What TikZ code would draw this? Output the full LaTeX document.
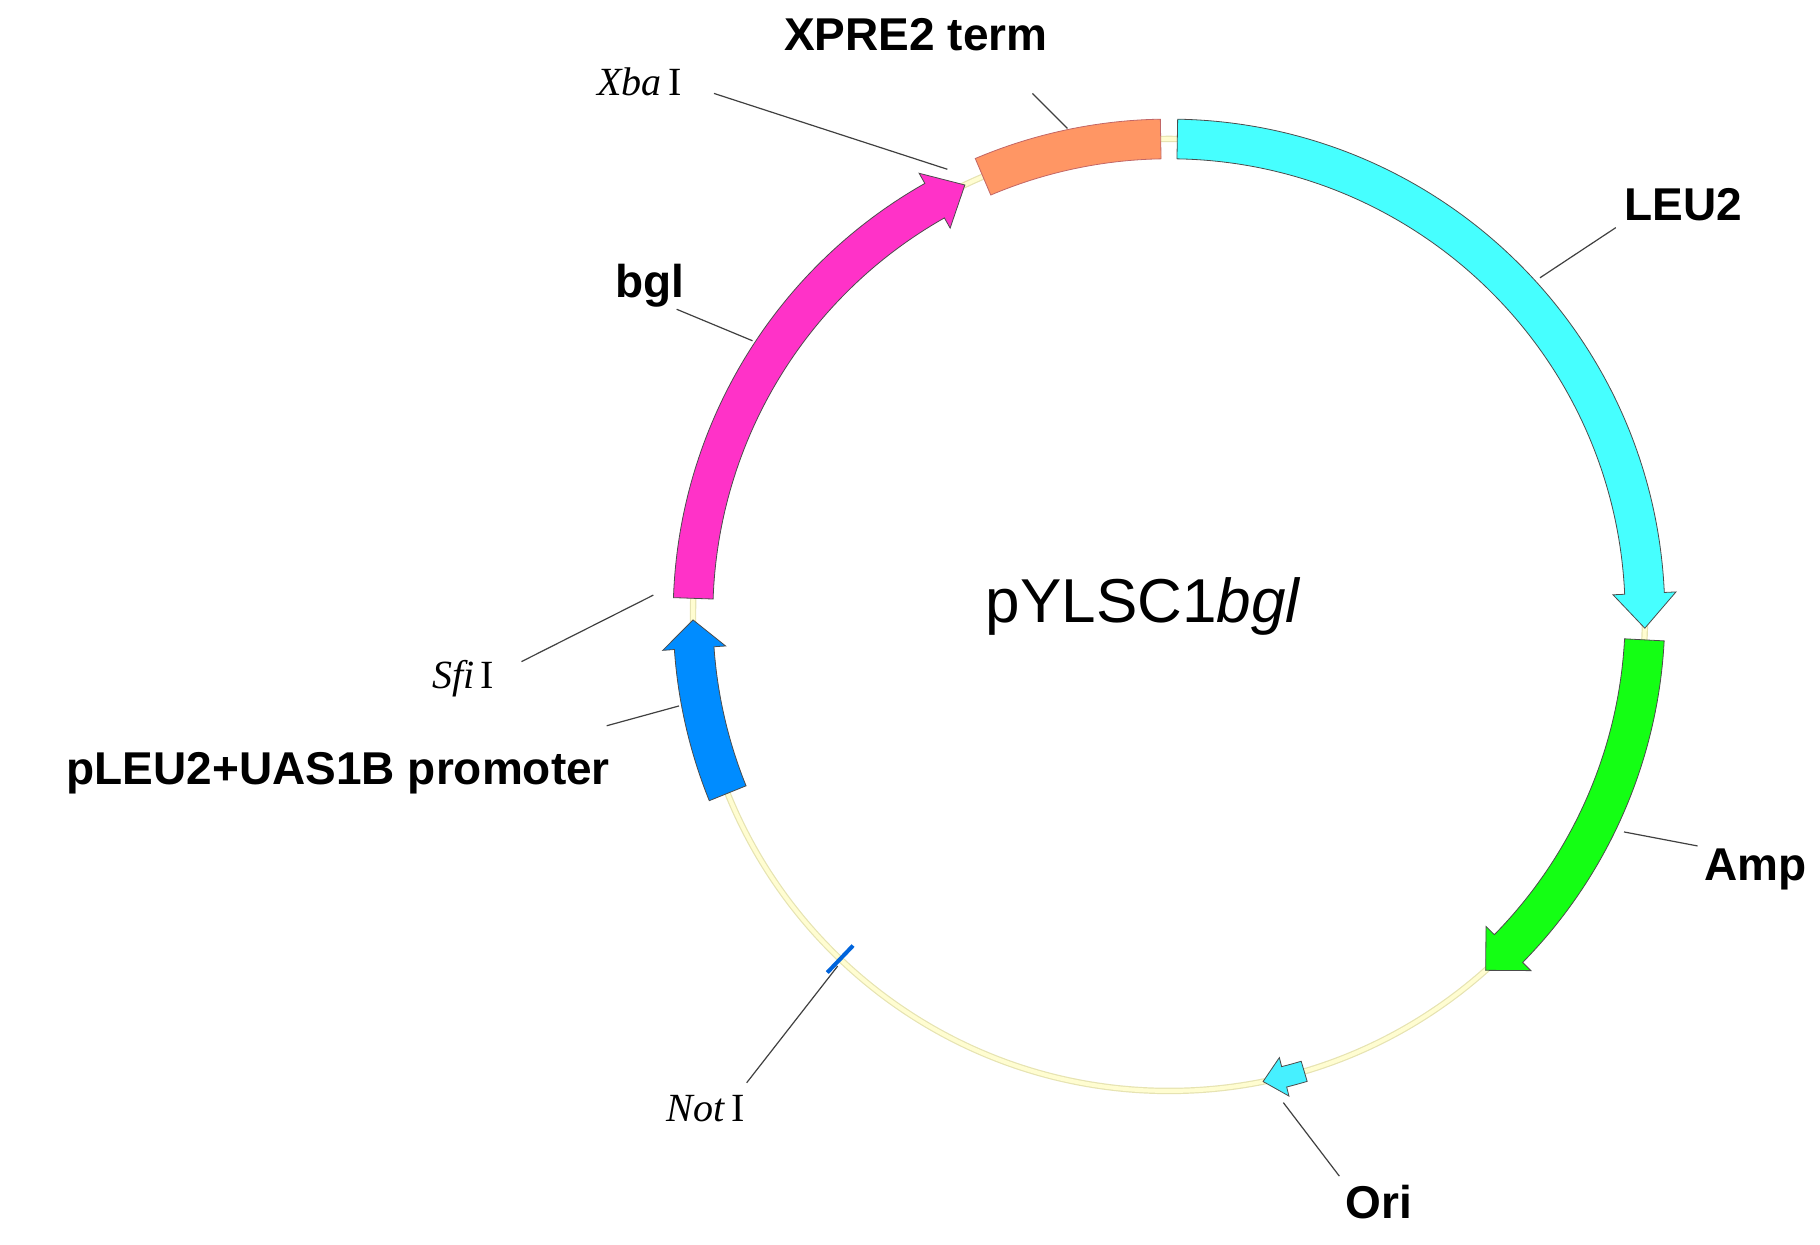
\documentclass[tikz,border=0pt]{standalone}
\usepackage{fontspec}
\setmainfont{Liberation Serif}
\setsansfont{Liberation Sans}
\definecolor{cxpre}{RGB}{255,150,100}
\definecolor{cleu}{RGB}{70,255,255}
\definecolor{camp}{RGB}{20,255,20}
\definecolor{cprom}{RGB}{0,140,255}
\definecolor{cbgl}{RGB}{255,50,200}
\definecolor{cori}{RGB}{70,240,255}
\definecolor{cnot}{RGB}{0,100,220}
\begin{document}
\begin{tikzpicture}[x=1.1667pt,y=1.1667pt,
  lab/.style={font=\sffamily\bfseries\fontsize{46}{50}\selectfont,inner sep=0},
  enz/.style={font=\rmfamily\fontsize{40}{44}\selectfont,inner sep=0},
  lead/.style={draw=black!75,line width=1.2pt},
  feat/.style={draw=black!70,line width=0.8pt}]
\useasboundingbox (0,0) rectangle (1560,1067.1);
\def\R{408}
\newcommand\arcarrow[4]{% start, headstart, tip, colour
  \filldraw[fill=#4,feat] (#1:\R+17) arc[start angle=#1,end angle=#2,radius=\R+17]
    -- (#2:\R+27) -- (#3:\R) -- (#2:\R-27) -- (#2:\R-17)
    arc[start angle=#2,end angle=#1,radius=\R-17] -- cycle;}
\begin{scope}[shift={(1002,540)}]
  \draw[draw=yellow!50!gray!45,double=yellow!18,line width=1.2pt,double distance=4pt] (0,0) circle[radius=\R];
  \filldraw[fill=cxpre,draw=red!60!black!60,line width=0.8pt]
    (113:\R+17) arc[start angle=113,end angle=91,radius=\R+17] -- (91:\R-17)
    arc[start angle=91,end angle=113,radius=\R-17] -- cycle;
  \arcarrow{89}{2.6}{-1.6}{cleu}
  \arcarrow{-3}{-44.5}{-48.3}{camp}
  \arcarrow{202}{184}{180.6}{cprom}
  \arcarrow{178}{119.5}{115.4}{cbgl}
  \filldraw[fill=cori,feat] (-73.5:\R+9) arc[start angle=-73.5,end angle=-76,radius=\R+9]
    -- (-76:\R+17) -- (-78.6:\R) -- (-76:\R-17) -- (-76:\R-9)
    arc[start angle=-76,end angle=-73.5,radius=\R-9] -- cycle;
  \draw[line width=4pt,cnot] (-133.7:\R-16) -- (-133.7:\R+16);
\end{scope}
% labels
\node[lab] (xpre) at (785,1037) {XPRE2 term};
\node[enz] (xba) at (548,997) {\textit{Xba}\,I};
\node[lab] (leu) at (1443,892) {LEU2};
\node[lab] (bgl) at (557,822) {bgl};
\node[enz] (sfi) at (397,485) {\textit{Sfi}\,I};
\node[lab] (prom) at (290,404) {pLEU2+UAS1B promoter};
\node[lab] (amp) at (1505,322) {Amp};
\node[lab] (ori) at (1182,37) {Ori};
\node[enz] (not) at (605,117) {\textit{Not}\,I};
\node[font=\sffamily\fontsize{62}{66}\selectfont,inner sep=0] (name) at (980,547) {pYLSC1\textit{bgl}};
% leader ends
\coordinate (xpreA) at (885,987); \coordinate (xpreB) at (915,957);
\coordinate (xbaA) at (612,987); \coordinate (xbaB) at (812,922);
\coordinate (leuA) at (1385,872); \coordinate (leuB) at (1320,829);
\coordinate (bglA) at (580,802); \coordinate (bglB) at (645,775);
\coordinate (sfiA) at (447,500); \coordinate (sfiB) at (560,557);
\coordinate (promA) at (520,445); \coordinate (promB) at (582,462);
\coordinate (ampA) at (1455,342); \coordinate (ampB) at (1392,354);
\coordinate (oriA) at (1148,59); \coordinate (oriB) at (1100,122);
\coordinate (notA) at (640,139); \coordinate (notB) at (718,239);
\foreach \a/\b in {xpreA/xpreB,xbaA/xbaB,leuA/leuB,bglA/bglB,sfiA/sfiB,promA/promB,ampA/ampB,oriA/oriB,notA/notB}
  \draw[lead] (\a) -- (\b);
\end{tikzpicture}
\end{document}
